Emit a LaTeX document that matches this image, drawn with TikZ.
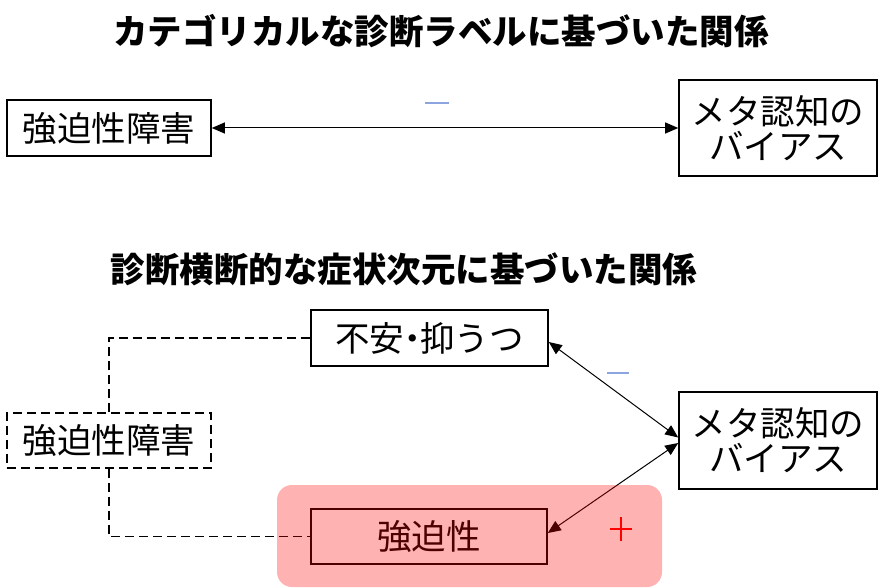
\documentclass[tikz,border=0pt]{standalone}
\usepackage{fontspec}
\setmainfont{Noto Sans CJK JP}
\usetikzlibrary{arrows.meta}
\definecolor{minusblue}{RGB}{140,165,225}
\tikzset{
  box/.style={draw=black, line width=1.6pt, inner sep=0pt, font=\fontsize{34.5}{38}\selectfont, align=center},
  dbox/.style={box, dashed, dash pattern=on 9pt off 5pt, line width=1.4pt},
  title/.style={font=\fontsize{34.5}{38}\selectfont\bfseries, inner sep=0pt},
  conn/.style={line width=1pt, {Triangle[length=13pt,width=11pt]}-{Triangle[length=13pt,width=11pt]}},
  dline/.style={line width=1.4pt, dash pattern=on 9pt off 5pt}
}
\begin{document}
\begin{tikzpicture}[x=1pt,y=-1pt]
\useasboundingbox (0,0) rectangle (886,588);
% titles
\node[title] (t1) at (441,31) {カテゴリカルな診断ラベルに基づいた関係};
\node[title] (t2) at (404,269) {診断横断的な症状次元に基づいた関係};
% top section
\node[box, minimum width=204pt, minimum height=56pt] (ocd1) at (109,128) {強迫性障害};
\node[box, minimum width=198pt, minimum height=96pt] (meta1) at (778,128) {メタ認知の\\[-3pt]バイアス};
\draw[conn] (ocd1.east) -- (meta1.west);
\coordinate (m1a) at (425,103);
\coordinate (m1b) at (449,103);
\draw[minusblue, line width=2pt] (m1a) -- (m1b);
% bottom section
\node[dbox, minimum width=204pt, minimum height=55pt] (ocd2) at (109,440.5) {強迫性障害};
\node[box, minimum width=237pt, minimum height=56pt] (anx) at (429.5,338) {不安\kern-0.27em・\kern-0.27em抑うつ};
\node[box, minimum width=198pt, minimum height=97pt] (meta2) at (778,440.5) {メタ認知の\\[-3pt]バイアス};
\node[box, minimum width=236pt, minimum height=55pt] (oc) at (429,536.5) {強迫性};
\draw[dline] (ocd2.north) |- (anx.west);
\draw[dline] (ocd2.south) |- (oc.west);
\draw[conn] ([yshift=-4pt]anx.east) -- ([yshift=3pt]meta2.west);
\draw[conn] ([yshift=-2.5pt]meta2.west) -- ([yshift=3.5pt]oc.east);
\coordinate (m2a) at (607,373);
\coordinate (m2b) at (629,373);
\draw[minusblue, line width=2pt] (m2a) -- (m2b);
% pink highlight overlay
\fill[red, fill opacity=0.3, rounded corners=15pt] (277,485) rectangle (662,587);
% plus sign
\coordinate (pc) at (621,529);
\draw[red, line width=1.8pt] ([xshift=-11pt]pc) -- ([xshift=11pt]pc);
\draw[red, line width=1.8pt] ([yshift=-12pt]pc) -- ([yshift=12pt]pc);
\end{tikzpicture}
\end{document}
